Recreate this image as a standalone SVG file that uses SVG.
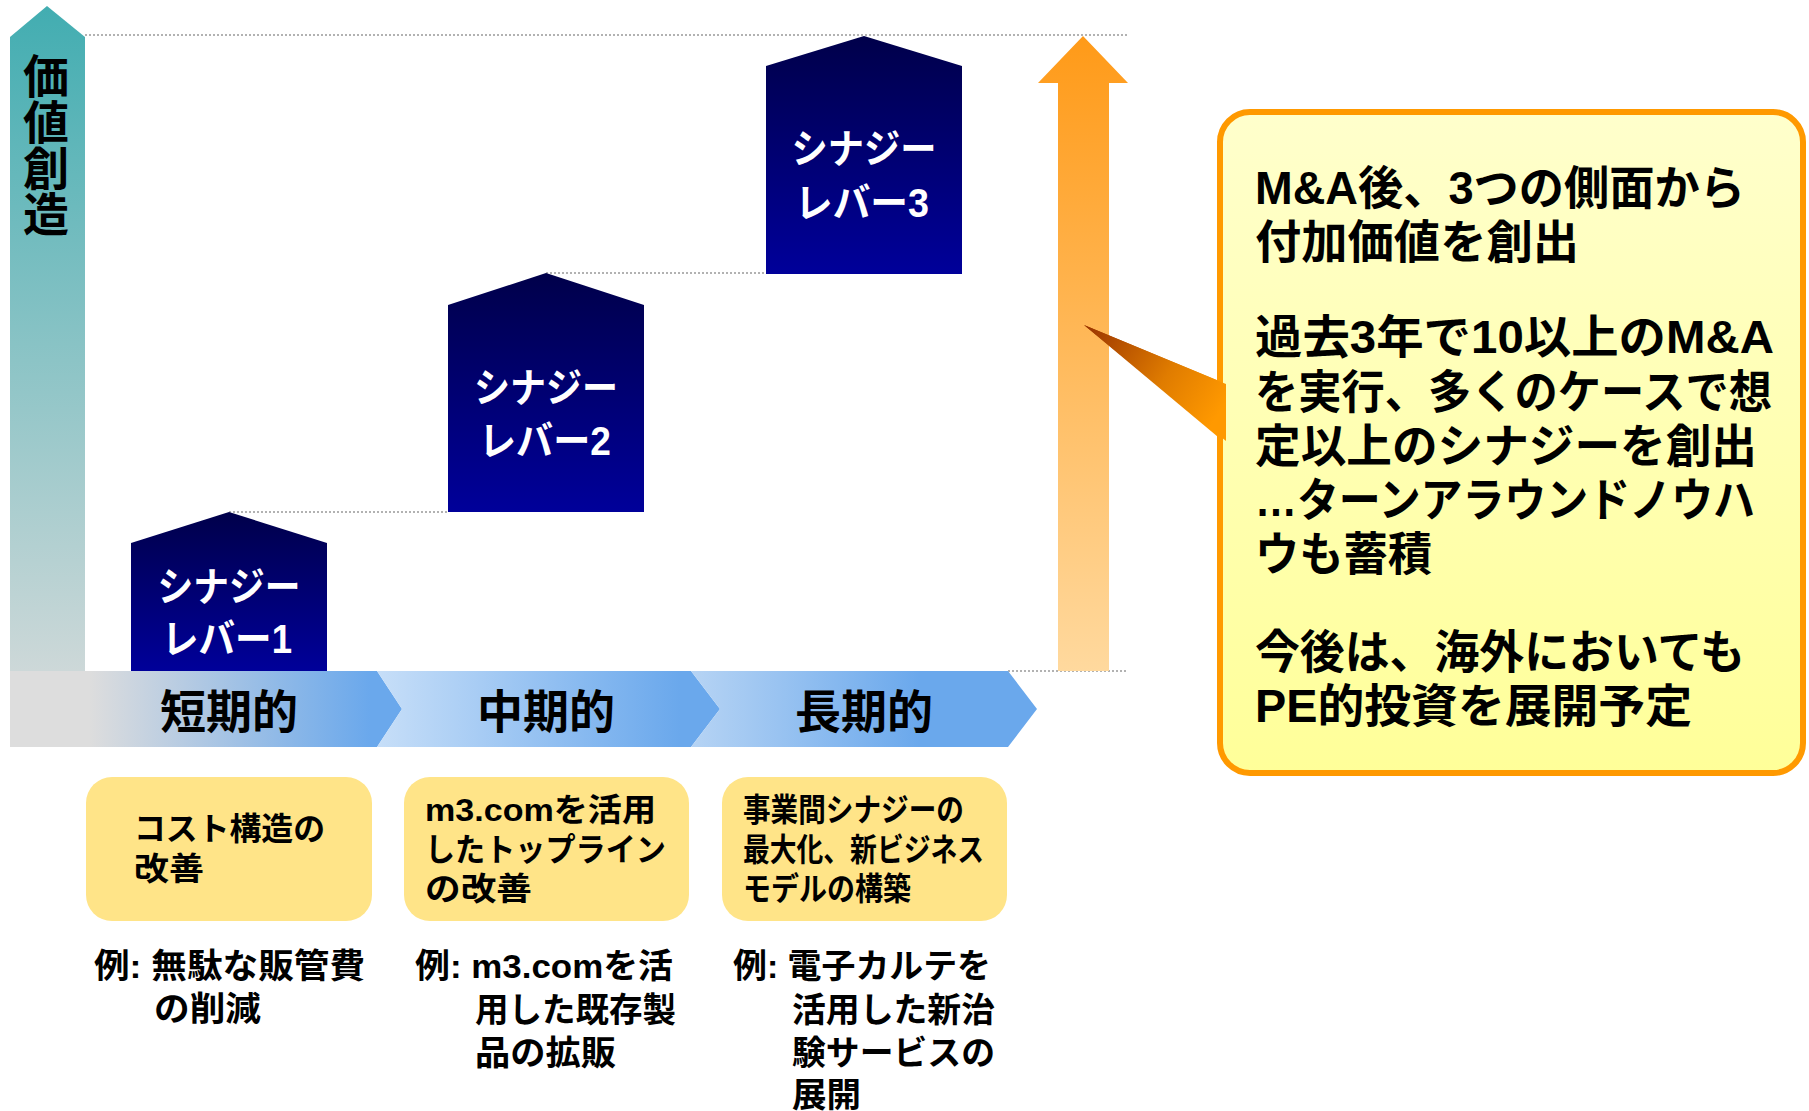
<svg xmlns="http://www.w3.org/2000/svg" width="1809" height="1111" viewBox="0 0 1809 1111">
<defs>
<linearGradient id="gAxis" x1="0" y1="6" x2="0" y2="747" gradientUnits="userSpaceOnUse"><stop offset="0" stop-color="#42ADB1"/><stop offset="1" stop-color="#DDDDDD"/></linearGradient>
<linearGradient id="gLever" x1="0" y1="0" x2="0" y2="1"><stop offset="0" stop-color="#00004A"/><stop offset="1" stop-color="#00009A"/></linearGradient>
<linearGradient id="gC1" x1="90" y1="0" x2="370" y2="0" gradientUnits="userSpaceOnUse"><stop offset="0" stop-color="#DDDDDD"/><stop offset="1" stop-color="#6AA8EC"/></linearGradient>
<linearGradient id="gC2" x1="380" y1="0" x2="680" y2="0" gradientUnits="userSpaceOnUse"><stop offset="0" stop-color="#C6DEF8"/><stop offset="1" stop-color="#6AA8EC"/></linearGradient>
<linearGradient id="gC3" x1="695" y1="0" x2="920" y2="0" gradientUnits="userSpaceOnUse"><stop offset="0" stop-color="#B5D3F4"/><stop offset="1" stop-color="#6AA8EC"/></linearGradient>
<linearGradient id="gOrange" x1="0" y1="36" x2="0" y2="671" gradientUnits="userSpaceOnUse"><stop offset="0" stop-color="#FF9A18"/><stop offset="1" stop-color="#FFD99E"/></linearGradient>
<linearGradient id="gPointer" x1="1084" y1="325" x2="1220" y2="412" gradientUnits="userSpaceOnUse"><stop offset="0" stop-color="#993300"/><stop offset="0.6" stop-color="#E07C00"/><stop offset="1" stop-color="#FF9900"/></linearGradient>
<linearGradient id="gCallout" x1="0" y1="0" x2="0" y2="1"><stop offset="0" stop-color="#FFFFCC"/><stop offset="1" stop-color="#FFFF99"/></linearGradient>
</defs>
<style>
text{font-family:"Liberation Sans","Noto Sans CJK JP",sans-serif;font-weight:bold;}
.axis{font-size:46px;fill:#000;writing-mode:vertical-rl;}
.lev{font-size:40px;fill:#fff;text-anchor:middle;}
.phase{font-size:46px;fill:#000;text-anchor:middle;}
.box{font-size:32px;fill:#000;}
.ex{font-size:34px;fill:#000;}
.call{font-size:46px;fill:#000;}
.guide{stroke:#999;stroke-width:1.5;stroke-dasharray:2 2;fill:none;}
.lever{fill:url(#gLever);}
.ybox{fill:#FFE488;}
</style>

<g id="guides">
<line class="guide" x1="85" y1="35" x2="1128" y2="35"/>
<line class="guide" x1="546" y1="273" x2="766" y2="273"/>
<line class="guide" x1="229" y1="512" x2="448" y2="512"/>
<line class="guide" x1="1008" y1="671" x2="1128" y2="671"/>
</g>

<g id="axis-value">
<polygon points="10,37 47,6 85,37 85,747 10,747" fill="url(#gAxis)"/>
<text class="axis" x="42" y="53">価値創造</text>
</g>

<g id="phase-short">
<polygon points="10,671 377,671 402,709 377,747 10,747" fill="url(#gC1)"/>
<text class="phase" x="229" y="728">短期的</text>
</g>
<g id="phase-mid">
<polygon points="377,671 691,671 720,709 691,747 377,747 402,709" fill="url(#gC2)"/>
<text class="phase" x="546" y="728">中期的</text>
</g>
<g id="phase-long">
<polygon points="691,671 1008,671 1037,709 1008,747 691,747 720,709" fill="url(#gC3)"/>
<text class="phase" x="864" y="728">長期的</text>
</g>

<g id="lever1">
<polygon class="lever" points="131,543 229,512 327,543 327,671 131,671"/>
<text class="lev" x="229" y="601" textLength="143" lengthAdjust="spacingAndGlyphs">シナジー</text>
<text class="lev" x="227" y="653" textLength="130" lengthAdjust="spacingAndGlyphs">レバー1</text>
</g>
<g id="lever2">
<polygon class="lever" points="448,305 546,273 644,305 644,512 448,512"/>
<text class="lev" x="546" y="402" textLength="144" lengthAdjust="spacingAndGlyphs">シナジー</text>
<text class="lev" x="545" y="455" textLength="132" lengthAdjust="spacingAndGlyphs">レバー2</text>
</g>
<g id="lever3">
<polygon class="lever" points="766,66 864,36 962,66 962,274 766,274"/>
<text class="lev" x="864" y="163" textLength="145" lengthAdjust="spacingAndGlyphs">シナジー</text>
<text class="lev" x="862" y="217" textLength="134" lengthAdjust="spacingAndGlyphs">レバー3</text>
</g>

<g id="growth-arrow">
<polygon points="1083,36 1128,83 1109,83 1109,671 1058,671 1058,83 1038,83" fill="url(#gOrange)"/>
</g>

<g id="box1">
<rect class="ybox" x="86" y="777" width="286" height="144" rx="26"/>
<text class="box" x="134" y="840" textLength="191" lengthAdjust="spacingAndGlyphs">コスト構造の</text>
<text class="box" x="134" y="880" textLength="70" lengthAdjust="spacingAndGlyphs">改善</text>
</g>
<g id="box2">
<rect class="ybox" x="404" y="777" width="285" height="144" rx="26"/>
<text class="box" x="425" y="821" textLength="231" lengthAdjust="spacingAndGlyphs">m3.comを活用</text>
<text class="box" x="425" y="861" textLength="241" lengthAdjust="spacingAndGlyphs">したトップライン</text>
<text class="box" x="425" y="900" textLength="107" lengthAdjust="spacingAndGlyphs">の改善</text>
</g>
<g id="box3">
<rect class="ybox" x="722" y="777" width="285" height="144" rx="26"/>
<text class="box" x="743" y="821" textLength="221" lengthAdjust="spacingAndGlyphs">事業間シナジーの</text>
<text class="box" x="743" y="861" textLength="241" lengthAdjust="spacingAndGlyphs">最大化、新ビジネス</text>
<text class="box" x="743" y="900" textLength="168" lengthAdjust="spacingAndGlyphs">モデルの構築</text>
</g>

<g id="example1">
<text class="ex" x="94" y="978" textLength="271" lengthAdjust="spacingAndGlyphs">例: 無駄な販管費</text>
<text class="ex" x="154" y="1021" textLength="107" lengthAdjust="spacingAndGlyphs">の削減</text>
</g>
<g id="example2">
<text class="ex" x="415" y="978" textLength="258" lengthAdjust="spacingAndGlyphs">例: m3.comを活</text>
<text class="ex" x="475" y="1022" textLength="201" lengthAdjust="spacingAndGlyphs">用した既存製</text>
<text class="ex" x="475" y="1065" textLength="141" lengthAdjust="spacingAndGlyphs">品の拡販</text>
</g>
<g id="example3">
<text class="ex" x="733" y="978" textLength="258" lengthAdjust="spacingAndGlyphs">例: 電子カルテを</text>
<text class="ex" x="792" y="1022" textLength="203" lengthAdjust="spacingAndGlyphs">活用した新治</text>
<text class="ex" x="792" y="1065" textLength="203" lengthAdjust="spacingAndGlyphs">験サービスの</text>
<text class="ex" x="792" y="1107" textLength="69" lengthAdjust="spacingAndGlyphs">展開</text>
</g>

<g id="connectors">
<polygon points="1084,325 1224,383 1224,442" fill="url(#gPointer)"/>
</g>

<g id="callout">
<rect x="1220" y="112" width="583" height="661" rx="30" fill="url(#gCallout)" stroke="#FF9900" stroke-width="6"/>
<polygon points="1084,325 1226,384 1226,441" fill="url(#gPointer)"/>
<text class="call" x="1255" y="204" textLength="490" lengthAdjust="spacingAndGlyphs">M&amp;A後、3つの側面から</text>
<text class="call" x="1255" y="258" textLength="324" lengthAdjust="spacingAndGlyphs">付加価値を創出</text>
<text class="call" x="1255" y="353" textLength="519" lengthAdjust="spacingAndGlyphs">過去3年で10以上のM&amp;A</text>
<text class="call" x="1255" y="408" textLength="517" lengthAdjust="spacingAndGlyphs">を実行、多くのケースで想</text>
<text class="call" x="1255" y="462" textLength="502" lengthAdjust="spacingAndGlyphs">定以上のシナジーを創出</text>
<text class="call" x="1255" y="516" textLength="500" lengthAdjust="spacingAndGlyphs">…ターンアラウンドノウハ</text>
<text class="call" x="1255" y="570" textLength="177" lengthAdjust="spacingAndGlyphs">ウも蓄積</text>
<text class="call" x="1255" y="668" textLength="490" lengthAdjust="spacingAndGlyphs">今後は、海外においても</text>
<text class="call" x="1255" y="722" textLength="437" lengthAdjust="spacingAndGlyphs">PE的投資を展開予定</text>
</g>
</svg>
